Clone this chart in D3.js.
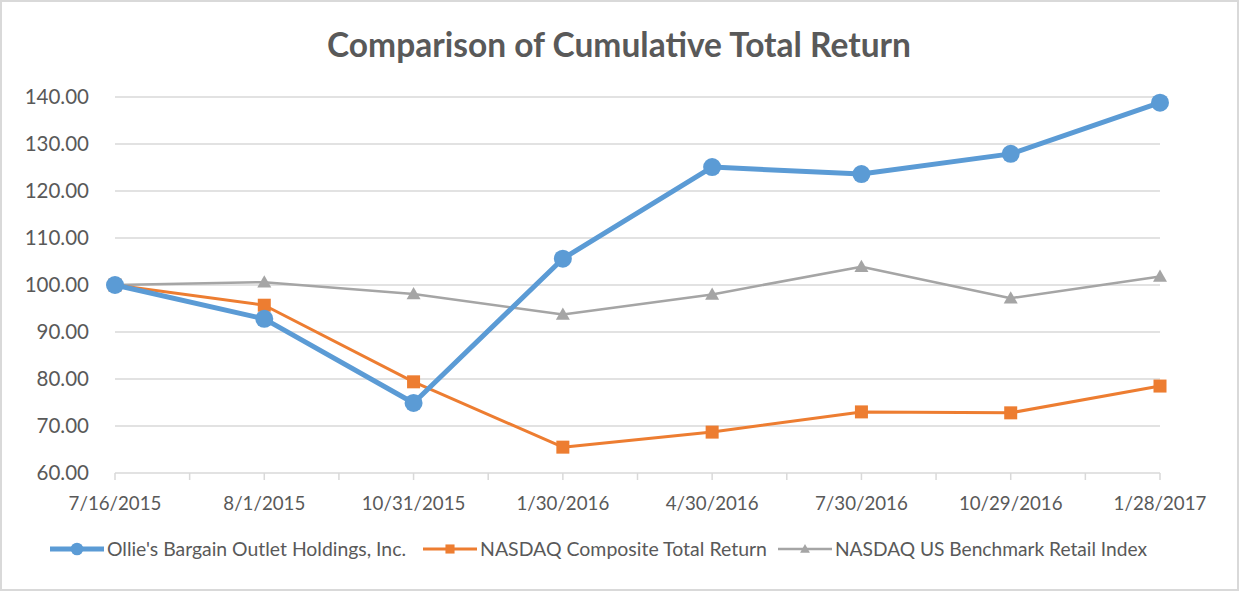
<!DOCTYPE html>
<html>
<head>
<meta charset="utf-8">
<script src="https://cdn.jsdelivr.net/npm/d3@7"></script>
<style>
  body { margin: 0; background: #fff; }
  svg { display: block; font-family: Lato, "Open Sans", sans-serif; }
</style>
</head>
<body>
<svg width="1240" height="592"></svg>
<script>
// data
const dates = ["7/16/2015", "8/1/2015", "10/31/2015", "1/30/2016", "4/30/2016", "7/30/2016", "10/29/2016", "1/28/2017"];
const ollies = [100.0, 92.8, 74.9, 105.6, 125.1, 123.6, 127.9, 138.8];
const nasdaqComp = [100.0, 95.7, 79.4, 65.5, 68.7, 73.0, 72.8, 78.5];
const nasdaqRetail = [100.0, 100.6, 98.1, 93.7, 98.0, 103.9, 97.2, 101.8];
const yTicks = [60, 70, 80, 90, 100, 110, 120, 130, 140];

const series = [
  { name: "Ollie's Bargain Outlet Holdings, Inc.", values: ollies, color: "#5b9bd5", width: 5, marker: "circle" },
  { name: "NASDAQ Composite Total Return", values: nasdaqComp, color: "#ed7d31", width: 3, marker: "square" },
  { name: "NASDAQ US Benchmark Retail Index", values: nasdaqRetail, color: "#a5a5a5", width: 2.5, marker: "triangle" }
];

const svg = d3.select("svg");

// border
svg.append("rect")
  .attr("x", 1).attr("y", 1).attr("width", 1237).attr("height", 589)
  .attr("fill", "#fff").attr("stroke", "#d9d9d9").attr("stroke-width", 2);

const plotL = 115, plotR = 1160, plotT = 97, plotB = 473;

const x = d3.scalePoint().domain(d3.range(dates.length)).range([plotL, plotR]);
const y = d3.scaleLinear().domain([60, 140]).range([plotB, plotT]);

// title
svg.append("text")
  .attr("x", 619).attr("y", 57)
  .attr("text-anchor", "middle")
  .attr("font-size", 33.5)
  .attr("font-weight", 700)
  .attr("fill", "#595959")
  .text("Comparison of Cumulative Total Return");

// gridlines
svg.append("g")
  .selectAll("line")
  .data(yTicks.slice(1))
  .join("line")
  .attr("x1", plotL).attr("x2", plotR)
  .attr("y1", d => y(d)).attr("y2", d => y(d))
  .attr("stroke", "#d9d9d9").attr("stroke-width", 1.5);

// y axis labels
svg.append("g")
  .selectAll("text")
  .data(yTicks)
  .join("text")
  .attr("x", 89).attr("y", d => y(d) + 7)
  .attr("text-anchor", "end")
  .attr("font-size", 20.5)
  .attr("fill", "#595959")
  .text(d => d3.format(".2f")(d));

// x axis line + ticks
const xAxis = svg.append("g");
xAxis.append("line")
  .attr("x1", plotL).attr("x2", plotR)
  .attr("y1", plotB).attr("y2", plotB)
  .attr("stroke", "#d9d9d9").attr("stroke-width", 1.5);
const step = x.step();
xAxis.selectAll("line.tick")
  .data(d3.range(0, dates.length - 0.5, 0.5))
  .join("line")
  .attr("class", "tick")
  .attr("x1", d => plotL + d * step).attr("x2", d => plotL + d * step)
  .attr("y1", plotB).attr("y2", plotB + 7)
  .attr("stroke", "#d9d9d9").attr("stroke-width", 1.5);

xAxis.selectAll("text")
  .data(dates)
  .join("text")
  .attr("x", (d, i) => x(i)).attr("y", 510)
  .attr("text-anchor", "middle")
  .attr("font-size", 18.7)
  .attr("fill", "#595959")
  .text(d => d);

// markers
function drawMarker(g, type, color, cx, cy, scale) {
  const s = scale || 1;
  if (type === "circle") {
    g.append("circle").attr("cx", cx).attr("cy", cy).attr("r", 9 * s).attr("fill", color);
  } else if (type === "square") {
    g.append("rect").attr("x", cx - 6.5 * s).attr("y", cy - 6.5 * s)
      .attr("width", 13 * s).attr("height", 13 * s).attr("fill", color);
  } else {
    const h = 7 * s;
    g.append("path")
      .attr("d", `M${cx},${cy - h}L${cx + h},${cy + h * 0.75}L${cx - h},${cy + h * 0.75}Z`)
      .attr("fill", color);
  }
}

const line = d3.line().x((d, i) => x(i)).y(d => y(d));

// draw series in reverse so blue sits on top
series.slice().reverse().forEach(s => {
  const g = svg.append("g");
  g.append("path")
    .datum(s.values)
    .attr("d", line)
    .attr("fill", "none")
    .attr("stroke", s.color)
    .attr("stroke-width", s.width)
    .attr("stroke-linejoin", "round");
  s.values.forEach((v, i) => drawMarker(g, s.marker, s.color, x(i), y(v)));
});

// legend
const legendX = [50, 423, 778];
const legendW = [299, 287, 312];
series.forEach((s, i) => {
  const g = svg.append("g");
  const lx = legendX[i];
  g.append("line")
    .attr("x1", lx).attr("x2", lx + 54)
    .attr("y1", 549).attr("y2", 549)
    .attr("stroke", s.color).attr("stroke-width", s.width);
  drawMarker(g, s.marker, s.color, lx + 27, 549, 0.7);
  g.append("text")
    .attr("x", lx + 57).attr("y", 556)
    .attr("font-size", 19.6)
    .attr("fill", "#595959")
    .attr("textLength", legendW[i])
    .attr("lengthAdjust", "spacingAndGlyphs")
    .text(s.name);
});
</script>
</body>
</html>
